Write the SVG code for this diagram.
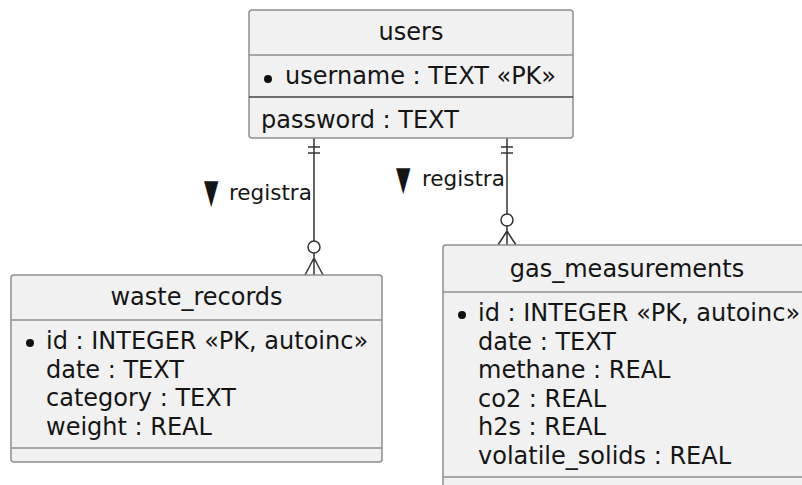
<svg xmlns="http://www.w3.org/2000/svg" width="802" height="485" viewBox="0 0 802 485">
<style>
.box{fill:#F1F1F1;stroke:#8f8f8f;stroke-width:1.5}
.sep{stroke:#8f8f8f;stroke-width:1.5}
.sep2{stroke:#444;stroke-width:1.6}
.t{font-family:"DejaVu Sans",sans-serif;font-size:24px;fill:#151515}
.lbl{font-family:"DejaVu Sans",sans-serif;font-size:21.5px;fill:#151515}
.tri{font-family:"DejaVu Sans",sans-serif;font-size:26px;fill:#151515}
.c{stroke:#333;stroke-width:1.5;fill:none}
.dot{fill:#111}
</style>
<rect width="802" height="485" fill="#ffffff"/>
<g id="connectors">
  <line class="c" x1="314" y1="138" x2="314" y2="241"/>
  <line class="c" x1="308" y1="147" x2="320" y2="147"/>
  <line class="c" x1="308" y1="153" x2="320" y2="153"/>
  <circle cx="314" cy="247" r="6" fill="#fff" stroke="#333" stroke-width="1.5"/>
  <path class="c" d="M314 258 L305 275 M314 258 L323 275 M314 253 L314 275"/>
  <text class="tri" transform="translate(204,203) scale(0.72,1.3)">▼</text>
  <text class="lbl" x="229" y="200">registra</text>
  <line class="c" x1="507" y1="138" x2="507" y2="214"/>
  <line class="c" x1="501" y1="147" x2="513" y2="147"/>
  <line class="c" x1="501" y1="153" x2="513" y2="153"/>
  <circle cx="507" cy="220" r="6" fill="#fff" stroke="#333" stroke-width="1.5"/>
  <path class="c" d="M507 231 L498 245 M507 231 L516 245 M507 226 L507 245"/>
  <text class="tri" transform="translate(396,190) scale(0.72,1.3)">▼</text>
  <text class="lbl" x="422" y="186">registra</text>
</g>
<g id="users">
  <rect class="box" x="249" y="10" width="324" height="128" rx="3"/>
  <line class="sep" x1="249" y1="55" x2="573" y2="55"/>
  <line class="sep2" x1="249" y1="97" x2="573" y2="97"/>
  <text class="t" x="411" y="40" text-anchor="middle">users</text>
  <circle class="dot" cx="268" cy="79" r="4"/>
  <text class="t" x="285" y="84">username : TEXT «PK»</text>
  <text class="t" x="261" y="128">password : TEXT</text>
</g>
<g id="waste_records">
  <rect class="box" x="11" y="275" width="371" height="187" rx="3"/>
  <line class="sep" x1="11" y1="320" x2="382" y2="320"/>
  <line class="sep" x1="11" y1="448" x2="382" y2="448"/>
  <text class="t" x="196.5" y="305" text-anchor="middle">waste_records</text>
  <circle class="dot" cx="30" cy="343" r="4"/>
  <text class="t" x="46" y="349">id : INTEGER «PK, autoinc»</text>
  <text class="t" x="46" y="377.5">date : TEXT</text>
  <text class="t" x="46" y="406">category : TEXT</text>
  <text class="t" x="46" y="434.5">weight : REAL</text>
</g>
<g id="gas_measurements">
  <rect class="box" x="443" y="245" width="370" height="260" rx="3"/>
  <line class="sep" x1="443" y1="292" x2="813" y2="292"/>
  <line class="sep" x1="443" y1="477" x2="813" y2="477"/>
  <text class="t" x="627" y="277" text-anchor="middle">gas_measurements</text>
  <circle class="dot" cx="462" cy="315" r="4"/>
  <text class="t" x="478" y="321">id : INTEGER «PK, autoinc»</text>
  <text class="t" x="478" y="349.5">date : TEXT</text>
  <text class="t" x="478" y="378">methane : REAL</text>
  <text class="t" x="478" y="406.5">co2 : REAL</text>
  <text class="t" x="478" y="435">h2s : REAL</text>
  <text class="t" x="478" y="463.5">volatile_solids : REAL</text>
</g>
</svg>
